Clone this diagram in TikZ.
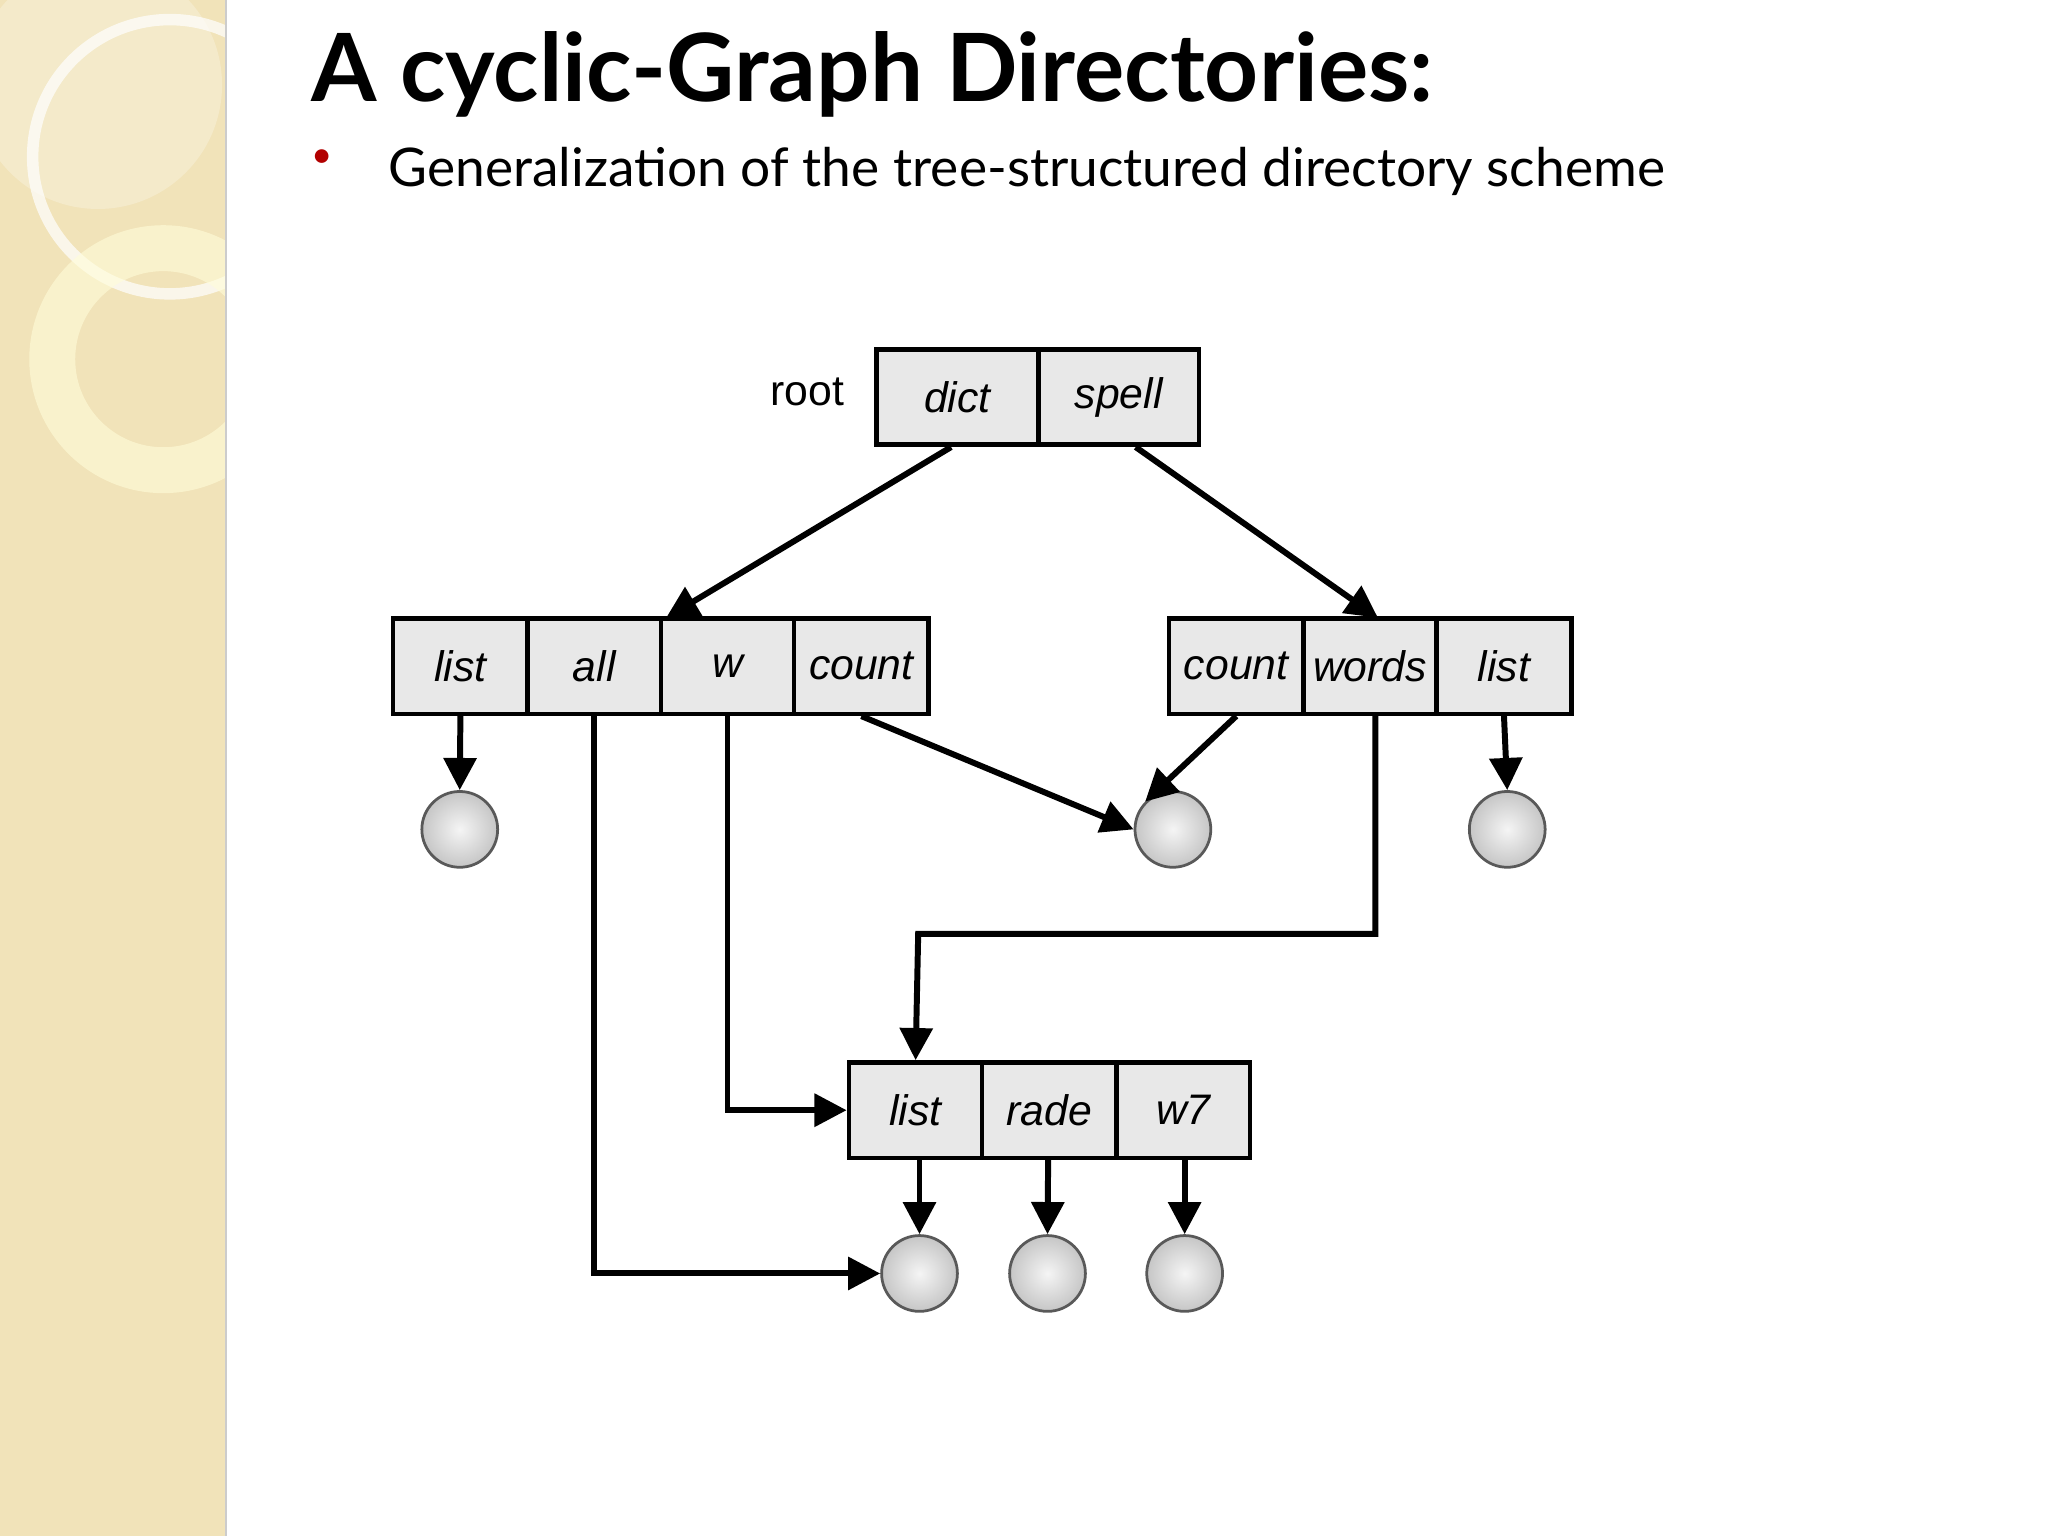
\documentclass[tikz,border=0pt]{standalone}
\usepackage{fontspec}
\setmainfont{Lato}
\newfontfamily\diagfont{Liberation Sans}
\usetikzlibrary{arrows.meta}
\definecolor{side}{HTML}{F1E3B9}
\begin{document}
\begin{tikzpicture}[x=0.01cm,y=-0.01cm,
  cell/.style={draw=black,line width=1pt,fill=gray!18,minimum height=0.73cm,inner sep=0pt,font=\diagfont\fontsize{9.3}{11}\selectfont\itshape},
  ball/.style={circle,draw=gray!70!black,line width=0.6pt,minimum size=0.58cm,inner sep=0pt,inner color=gray!8,outer color=gray!45,shading=radial},
  arr/.style={line width=1.3pt,-{Triangle[length=7pt,width=7pt]}}]
\useasboundingbox (0,0) rectangle (1568,1176);
\fill[white] (0,0) rectangle (1568,1176);
\fill[side] (0,0) rectangle (173,1176);
\begin{scope}
\clip (0,0) rectangle (173,1176);
\fill[white,opacity=0.25] (75,65) circle (95);
\draw[white,line width=2.5pt,opacity=0.7] (130,120) circle (105);
\draw[white!85!yellow,line width=10pt,opacity=0.6] (125,275) circle (85);
\end{scope}
\draw[gray!40] (173,0) -- (173,1176);
\node[anchor=base west,inner sep=0pt,font=\bfseries\fontsize{20.5}{24}\selectfont] (title) at (238,78) {A cyclic-Graph Directories:};
\node[anchor=base west,inner sep=0pt,text=red!70!black,font=\fontsize{8}{10}\selectfont] (bul) at (238,128) {•};
\node[anchor=base west,inner sep=0pt,font=\fontsize{11.6}{14}\selectfont] (sub) at (297,143) {Generalization of the tree-structured directory scheme};
% root
\node[font=\diagfont\fontsize{9.3}{11}\selectfont] (root) at (618,300) {root};
\node[cell,minimum width=1.24cm] (dict) at (733,304) {dict};
\node[cell,minimum width=1.23cm] (spell) at (856.5,304) {spell};
% left level
\node[cell,minimum width=1.03cm] (llist) at (352.5,510) {list};
\node[cell,minimum width=1.02cm] (all) at (455,510) {all};
\node[cell,minimum width=1.02cm] (w) at (557,510) {w};
\node[cell,minimum width=1.03cm] (lcount) at (659.5,510) {count};
% right level
\node[cell,minimum width=1.03cm] (rcount) at (946.5,510) {count};
\node[cell,minimum width=1.02cm] (words) at (1049,510) {words};
\node[cell,minimum width=1.03cm] (rlist) at (1151.5,510) {list};
% bottom
\node[cell,minimum width=1.02cm] (blist) at (701,850) {list};
\node[cell,minimum width=1.03cm] (rade) at (803.5,850) {rade};
\node[cell,minimum width=1.02cm] (w7) at (906,850) {w7};
% balls
\node[ball] (b1) at (352,635) {};
\node[ball] (b2) at (898,635) {};
\node[ball] (b3) at (1154,635) {};
\node[ball] (b4) at (704,975) {};
\node[ball] (b5) at (802,975) {};
\node[ball] (b6) at (907,975) {};
% arrows
\draw[arr] (dict.south west)++(59,0) -- (510,473);
\draw[arr] (spell.south)++(13,0) -- (1055,473);
\draw[arr] (llist.south) -- (b1.north);
\draw[arr] (lcount.south) -- (b2.west);
\draw[arr] (rcount.south) -- (b2.north west);
\draw[arr] (rlist.south) -- (b3.north);
\draw[arr] (words.south)++(4,0) |- (703,715) -- (blist.north);
\draw[arr] (w.south) |- (blist.west);
\draw[arr] (all.south) |- (b4.west);
\draw[arr] (blist.south)++(3,0) -- (b4.north);
\draw[arr] (rade.south)++(-1,0) -- (b5.north);
\draw[arr] (w7.south)++(1,0) -- (b6.north);
\end{tikzpicture}
\end{document}
